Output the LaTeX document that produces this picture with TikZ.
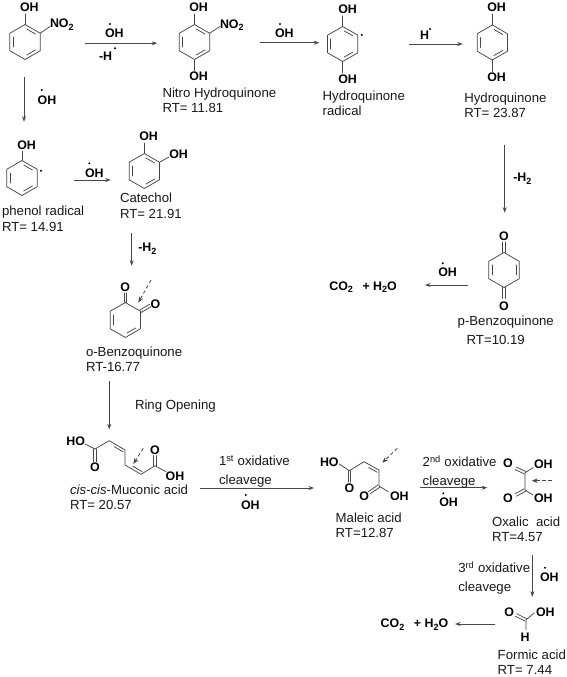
\documentclass[tikz,border=0pt]{standalone}
\usepackage{fontspec}
\setmainfont{Liberation Sans}
\usetikzlibrary{calc,arrows.meta}
\tikzset{
  bond/.style={draw=black!72,line width=.75pt,line cap=round,line join=round},
  rxn/.style={draw=black!72,line width=.8pt,-{Stealth[length=5.5pt,width=4pt]}},
  dashrxn/.style={draw=black!72,line width=.8pt,dash pattern=on 3.5pt off 2.5pt,-{Stealth[length=6pt,width=4.5pt]}},
  lbl/.style={anchor=base west,inner sep=0pt,outer sep=0pt,font=\fontsize{13.2}{15}\selectfont,text=black!90},
  atm/.style={anchor=base west,inner sep=0pt,outer sep=0pt,font=\fontsize{12.4}{15}\selectfont\bfseries,text=black},
  rad/.style={circle,fill=black,inner sep=0pt,minimum size=2.2pt},
}
\newcommand{\hexring}[3]{%
  \coordinate (#1c) at (#2,#3);
  \coordinate (#11) at ($(#1c)+(-90:17.5)$);
  \coordinate (#12) at ($(#1c)+(-30:17.5)$);
  \coordinate (#13) at ($(#1c)+(30:17.5)$);
  \coordinate (#14) at ($(#1c)+(90:17.5)$);
  \coordinate (#15) at ($(#1c)+(150:17.5)$);
  \coordinate (#16) at ($(#1c)+(210:17.5)$);
  \draw[bond] (#11)--(#12)--(#13)--(#14)--(#15)--(#16)--cycle;
}
\newcommand{\innerb}[3]{\draw[bond] ($($(#1)!.14!(#2)$)!.2!(#3)$) -- ($($(#1)!.86!(#2)$)!.2!(#3)$);}
\newcommand{\dblb}[2]{%
  \draw[bond] ($(#1)!1.4pt!90:(#2)$) -- ($(#2)!1.4pt!-90:(#1)$);
  \draw[bond] ($(#1)!1.4pt!-90:(#2)$) -- ($(#2)!1.4pt!90:(#1)$);
}
\newcommand{\subt}[1]{\raisebox{-2.6pt}{\fontsize{9}{9}\selectfont #1}}
\newcommand{\arrowrxn}[6][rxn]{%
  \coordinate (#2s) at (#3); \coordinate (#2e) at (#4);
  \draw[#1] (#2s) -- (#2e);
  \ifx\relax#5\relax\else\node[atm] (#2l) at (#5) {#6};\fi
}
\begin{document}
\begin{tikzpicture}[x=1pt,y=-1pt]
\useasboundingbox (0,0) rectangle (567,677);

%% o-nitrophenol
\hexring{a}{25}{42}
\innerb{a1}{a2}{ac}\innerb{a3}{a4}{ac}\innerb{a5}{a6}{ac}
\node[atm] (aoh) at (20,12) {OH};
\node[atm] (ano) at (50,28) {NO\subt{2}};
\coordinate (aohb) at (25,14); \coordinate (anob) at (50,26.5);
\draw[bond] (a1)--(aohb); \draw[bond] (a2)--(anob);

%% nitro hydroquinone
\hexring{b}{194.5}{42}
\innerb{b1}{b2}{bc}\innerb{b3}{b4}{bc}\innerb{b5}{b6}{bc}
\node[atm] (boh) at (189.3,12) {OH};
\node[atm] (bno) at (220,28.3) {NO\subt{2}};
\node[atm] (boh2) at (189.3,81) {OH};
\coordinate (bohb) at (194.5,14); \coordinate (bnob) at (220,26.5); \coordinate (boh2b) at (194.5,71);
\draw[bond] (b1)--(bohb); \draw[bond] (b2)--(bnob); \draw[bond] (b4)--(boh2b);
\node[lbl] (bn) at (162.5,97.7) {Nitro Hydroquinone};
\node[lbl] (brt) at (162.5,112.7) {RT= 11.81};

%% hydroquinone radical
\hexring{c}{342.7}{44}
\innerb{c1}{c2}{cc}\innerb{c3}{c4}{cc}\innerb{c5}{c6}{cc}
\node[atm] (coh) at (338.3,14) {OH};
\node[atm] (coh2) at (338.3,83.3) {OH};
\coordinate (cohb) at (342.7,16); \coordinate (coh2b) at (342.7,73);
\draw[bond] (c1)--(cohb); \draw[bond] (c4)--(coh2b);
\node[rad] (crad) at (361.7,35) {};
\node[lbl] (cn) at (322.7,100) {Hydroquinone};
\node[lbl] (cn2) at (322.7,115.7) {radical};

%% hydroquinone
\hexring{d}{492.3}{42.5}
\innerb{d1}{d2}{dc}\innerb{d3}{d4}{dc}\innerb{d5}{d6}{dc}
\node[atm] (doh) at (487.3,12) {OH};
\node[atm] (doh2) at (487.3,81.7) {OH};
\coordinate (dohb) at (492.3,14); \coordinate (doh2b) at (492.3,71.5);
\draw[bond] (d1)--(dohb); \draw[bond] (d4)--(doh2b);
\node[lbl] (dn) at (464.3,102.3) {Hydroquinone};
\node[lbl] (drt) at (464.3,117.7) {RT= 23.87};

%% phenol radical
\hexring{e}{22}{178}
\innerb{e1}{e2}{ec}\innerb{e3}{e4}{ec}\innerb{e5}{e6}{ec}
\node[atm] (eoh) at (17.3,149) {OH};
\coordinate (eohb) at (22,151);
\draw[bond] (e1)--(eohb);
\node[rad] (erad) at (41,170.7) {};
\node[lbl] (en) at (2,215.5) {phenol radical};
\node[lbl] (ert) at (2,231) {RT= 14.91};

%% catechol
\hexring{f}{144.3}{171}
\innerb{f1}{f2}{fc}\innerb{f3}{f4}{fc}\innerb{f5}{f6}{fc}
\node[atm] (foh) at (139.3,140.7) {OH};
\node[atm] (foh2) at (169.3,158.3) {OH};
\coordinate (fohb) at (144.3,143); \coordinate (foh2b) at (169,157);
\draw[bond] (f1)--(fohb); \draw[bond] (f2)--(foh2b);
\node[lbl] (fn) at (120,202.7) {Catechol};
\node[lbl] (frt) at (120,218) {RT= 21.91};

%% o-benzoquinone
\hexring{g}{125.3}{320}
\innerb{g3}{g4}{gc}\innerb{g5}{g6}{gc}
\node[atm] (go1) at (120.3,291) {O};
\node[atm] (go2) at (150.7,308) {O};
\coordinate (go1b) at (125.3,293); \coordinate (go2b) at (150.3,305.5);
\dblb{g1}{go1b}\dblb{g2}{go2b}
\node[lbl] (gn) at (86,356) {o-Benzoquinone};
\node[lbl] (grt) at (86,371.7) {RT-16.77};
\arrowrxn[dashrxn]{gd}{151,280}{138.3,302.7}{}{}

%% p-benzoquinone
\hexring{h}{504}{270}
\innerb{h2}{h3}{hc}\innerb{h5}{h6}{hc}
\node[atm] (ho1) at (499,240) {O};
\node[atm] (ho2) at (499,310) {O};
\coordinate (ho1b) at (504,242); \coordinate (ho2b) at (504,298.5);
\dblb{h1}{ho1b}\dblb{h4}{ho2b}
\node[lbl] (hn) at (457.7,325.7) {p-Benzoquinone};
\node[lbl] (hrt) at (466.7,344.3) {RT=10.19};

%% CO2 + H2O upper
\node[atm] (co2a) at (329.3,290) {CO\subt{2}\,\,\, + H\subt{2}O};

%% muconic acid
\coordinate (m1) at (95,449);
\coordinate (m2) at (109.3,440.7);
\coordinate (m3) at (125,450);
\coordinate (m4) at (125,465);
\coordinate (m5) at (141,474.3);
\coordinate (m6) at (155,465.7);
\coordinate (mho) at (85,444);
\coordinate (mo1b) at (95,461.7);
\coordinate (mo2b) at (155,455.5);
\coordinate (mohb) at (166,471.7);
\draw[bond] (mho)--(m1)--(m2)--(m3)--(m4)--(m5)--(m6)--(mohb);
\innerb{m2}{m3}{m4}
\innerb{m4}{m5}{m6}
\dblb{m1}{mo1b}\dblb{m6}{mo2b}
\node[atm] (mhot) at (66.3,445) {HO};
\node[atm] (mo1) at (90,471.7) {O};
\node[atm] (mo2) at (150,454) {O};
\node[atm] (moh) at (165.7,480) {OH};
\node[lbl] (mn) at (70,494) {\itshape cis-cis\upshape -Muconic acid};
\node[lbl] (mrt) at (70,509) {RT= 20.57};
\arrowrxn[dashrxn]{md}{143.3,448.3}{133.3,464}{}{}

%% maleic acid
\coordinate (n1) at (349.3,470.7);
\coordinate (n2) at (364,461.7);
\coordinate (n3) at (379,470);
\coordinate (n4) at (379,486);
\coordinate (nho) at (339.3,464);
\coordinate (no1b) at (349.3,482.3);
\coordinate (no2b) at (369.3,492.7);
\coordinate (nohb) at (388.3,491.7);
\draw[bond] (nho)--(n1)--(n2)--(n3)--(n4)--(nohb);
\innerb{n2}{n3}{n4}
\dblb{n1}{no1b}\dblb{n4}{no2b}
\node[atm] (nhot) at (320,466.7) {HO};
\node[atm] (no1) at (344.5,492.3) {O};
\node[atm] (no2) at (359.3,500.7) {O};
\node[atm] (noh) at (390,500.7) {OH};
\node[lbl] (nn) at (335.7,522.7) {Maleic acid};
\node[lbl] (nrt) at (335.7,537.7) {RT=12.87};
\arrowrxn[dashrxn]{nd}{397.3,448.3}{382.3,462.7}{}{}

%% oxalic acid
\coordinate (o1) at (525,472.7);
\coordinate (o2) at (525,490);
\coordinate (oo1b) at (515.7,468.3);
\coordinate (oo2b) at (515.7,495);
\coordinate (oh1b) at (533,467.7);
\coordinate (oh2b) at (533,495);
\draw[bond] (oh1b)--(o1)--(o2)--(oh2b);
\dblb{o1}{oo1b}\dblb{o2}{oo2b}
\node[atm] (oo1) at (503,467.7) {O};
\node[atm] (oo2) at (503,502.7) {O};
\node[atm] (oh1) at (534,468) {OH};
\node[atm] (oh2) at (534,502.7) {OH};
\node[lbl] (on) at (492,526.7) {Oxalic\ \ acid};
\node[lbl] (ort) at (492,541.7) {RT=4.57};
\arrowrxn[dashrxn]{od}{551.7,480.7}{531.7,480.7}{}{}

%% formic acid
\coordinate (p1) at (526,620);
\coordinate (po1b) at (516,615);
\coordinate (ph1b) at (534,613);
\coordinate (ph2b) at (526,630);
\draw[bond] (ph1b)--(p1)--(ph2b);
\dblb{p1}{po1b}
\node[atm] (po) at (504.3,616.7) {O};
\node[atm] (poh) at (536,616.7) {OH};
\node[atm] (ph) at (520.5,641.7) {H};
\node[lbl] (pn) at (497.7,659.3) {Formic acid};
\node[lbl] (prt) at (497.7,674.3) {RT= 7.44};

%% CO2 + H2O lower
\node[atm] (co2b) at (380.7,627.7) {CO\subt{2}\,\,\, + H\subt{2}O};

%% reaction arrows and their labels
\arrowrxn{r1}{85,43.3}{157.3,43.3}{105,37.7}{OH}
\node[rad] (r1d) at (110,24) {};
\node[atm] (r1m) at (99,60) {-H};
\node[rad] (r1md) at (115,48.3) {};

\arrowrxn{r2}{24,77.3}{24,121.7}{37.7,104.3}{OH}
\node[rad] (r2d) at (41.7,90) {};

\arrowrxn{r3}{74,180}{110.7,180}{85,177.3}{OH}
\node[rad] (r3d) at (89.3,163.3) {};

\arrowrxn{r4}{260,42.7}{319.3,42.7}{275,37.7}{OH}
\node[rad] (r4d) at (280,24) {};

\arrowrxn{r5}{409.3,44}{462.7,44}{420,40}{H}
\node[rad] (r5d) at (430,29) {};

\arrowrxn{r6}{504.7,145}{504.7,212.7}{513.3,181.7}{-H\subt{2}}
\arrowrxn{r7}{131.7,233.3}{131.7,265.7}{138.3,251.7}{-H\subt{2}}

\arrowrxn{r8}{109.3,380.7}{109.3,429.3}{}{}
\node[lbl] (ringop) at (135,409) {Ring Opening};

\arrowrxn{r9}{468.3,285}{425,285}{438.3,276.7}{OH}
\node[rad] (r9d) at (442.7,263.3) {};

\arrowrxn{r10}{200,488}{314,488}{241,509}{OH}
\node[rad] (r10d) at (245.7,495) {};
\node[lbl] (r10a) at (219,465.7) {1\textsuperscript{st} oxidative};
\node[lbl] (r10b) at (219,484) {cleavege};

\arrowrxn{r11}{420,487.7}{487.3,487.7}{439.3,506.7}{OH}
\node[rad] (r11d) at (443.3,493.3) {};
\node[lbl] (r11a) at (422.7,466.7) {2\textsuperscript{nd} oxidative};
\node[lbl] (r11b) at (422.7,485) {cleavege};

\arrowrxn{r12}{532.3,555}{532.3,596.7}{540,581}{OH}
\node[rad] (r12d) at (545,567.7) {};
\node[lbl] (r12a) at (458.3,572.7) {3\textsuperscript{rd} oxidative};
\node[lbl] (r12b) at (458.3,591.7) {cleavege};

\arrowrxn{r13}{495,624}{455,624}{}{}
\end{tikzpicture}
\end{document}
